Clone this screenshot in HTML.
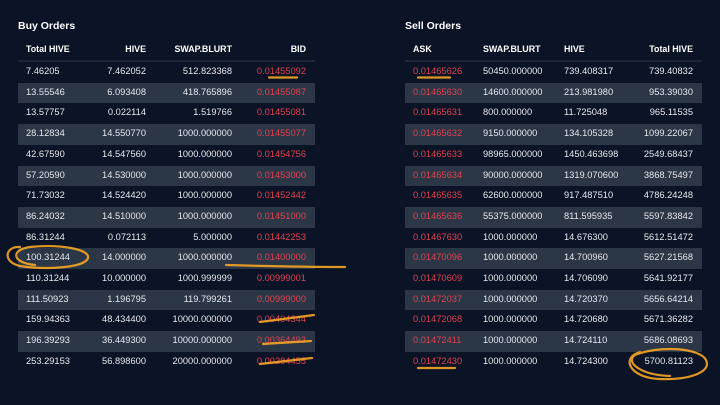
<!DOCTYPE html>
<html><head><meta charset="utf-8"><style>
body{margin:0;width:720px;height:405px;background:#0b1326;overflow:hidden;font-family:"Liberation Sans",sans-serif;color:#e6e9ee;position:relative}
.t{position:absolute;font-weight:bold;font-size:10.5px;top:20px;color:#fff}
.c{position:absolute;font-size:9.3px;line-height:10px;white-space:nowrap}
.h{font-weight:bold;color:#fff;font-size:8.9px}
.r{color:#e0434f}
.s{position:absolute;height:20.7px;background:#2b3646}
.l{position:absolute;height:2px;background:#1c2638}
</style></head><body>
<div class="t" style="left:18px">Buy Orders</div>
<div class="t" style="left:405px">Sell Orders</div>
<div id="root"></div>
<svg width="720" height="405" style="position:absolute;left:0;top:0">
<g fill="none" stroke="#f5a623" stroke-width="2.2" stroke-linecap="round" opacity="0.9">
<path d="M269 77.5 L297 77.5"/>
<path d="M20 247 C5 246 2 262 20 266 C45 270 85 268 88 258 C90 249 60 244 30 247 C10 250 12 263 35 265"/>
<path d="M226 265 C260 266 300 267 345 267"/>
<path d="M260 322 L314 315"/>
<path d="M263 344 L311 341"/>
<path d="M260 364 L312 358"/>
<path d="M418 77.5 L450 77.5"/>
<path d="M418 368 L455 368"/>
<path d="M640 352 C620 358 630 378 660 379 C690 380 712 372 706 360 C700 348 660 345 635 355 C625 362 640 375 670 376"/>
</g></svg>
<script>
const buyTotal=["7.46205","13.55546","13.57757","28.12834","42.67590","57.20590","71.73032","86.24032","86.31244","100.31244","110.31244","111.50923","159.94363","196.39293","253.29153"];
const buyHive=["7.462052","6.093408","0.022114","14.550770","14.547560","14.530000","14.524420","14.510000","0.072113","14.000000","10.000000","1.196795","48.434400","36.449300","56.898600"];
const buySwap=["512.823368","418.765896","1.519766","1000.000000","1000.000000","1000.000000","1000.000000","1000.000000","5.000000","1000.000000","1000.999999","119.799261","10000.000000","10000.000000","20000.000000"];
const buyBid=["0.01455092","0.01455087","0.01455081","0.01455077","0.01454756","0.01453000","0.01452442","0.01451000","0.01442253","0.01400000","0.00999001","0.00999000","0.00404344","0.00364493","0.00284455"];
const sellAsk=["0.01465626","0.01465630","0.01465631","0.01465632","0.01465633","0.01465634","0.01465635","0.01465636","0.01467630","0.01470096","0.01470609","0.01472037","0.01472068","0.01472411","0.01472430"];
const sellSwap=["50450.000000","14600.000000","800.000000","9150.000000","98965.000000","90000.000000","62600.000000","55375.000000","1000.000000","1000.000000","1000.000000","1000.000000","1000.000000","1000.000000","1000.000000"];
const sellHive=["739.408317","213.981980","11.725048","134.105328","1450.463698","1319.070600","917.487510","811.595935","14.676300","14.700960","14.706090","14.720370","14.720680","14.724110","14.724300"];
const sellTotal=["739.40832","953.39030","965.11535","1099.22067","2549.68437","3868.75497","4786.24248","5597.83842","5612.51472","5627.21568","5641.92177","5656.64214","5671.36282","5686.08693","5700.81123"];
const root=document.getElementById('root');
const RH=20.7,TOP=61;
function cell(txt,x,y,align,cls,name){
  const d=document.createElement('div');
  d.className='c '+cls;d.textContent=txt;
  d.style.top=(y-6)+'px';
  if(align==='r'){d.style.right=(720-x)+'px';}else{d.style.left=x+'px';}
  
  
  root.appendChild(d);
}
function table(x0,w,cols,hdrs,prefix){
  const ln=document.createElement('div');ln.className='l';
  ln.style.left=x0+'px';ln.style.width=w+'px';ln.style.top=(TOP-1)+'px';
  
  
  root.appendChild(ln);
  const n=cols[0].data.length;
  for(let i=0;i<n;i++){
    if(i%2===1){const s=document.createElement('div');s.className='s';
      s.style.left=x0+'px';s.style.width=w+'px';s.style.top=(TOP+1+i*RH)+'px';
      
      
      root.appendChild(s);}
  }
  cols.forEach((c,j)=>{
    cell(hdrs[j],c.x,50,c.a,'h',prefix+'-header-'+j);
    c.data.forEach((v,i)=>cell(v,c.x,TOP+11+i*RH,c.a,c.red?'r':'',prefix+'-cell'));
  });
}
table(18,297,[{x:26,a:'l',data:buyTotal},{x:146,a:'r',data:buyHive},{x:232,a:'r',data:buySwap},{x:306,a:'r',data:buyBid,red:1}],["Total HIVE","HIVE","SWAP.BLURT","BID"],'buy');
table(405,297,[{x:413,a:'l',data:sellAsk,red:1},{x:483,a:'l',data:sellSwap},{x:564,a:'l',data:sellHive},{x:693,a:'r',data:sellTotal}],["ASK","SWAP.BLURT","HIVE","Total HIVE"],'sell');
</script>
</body></html>
